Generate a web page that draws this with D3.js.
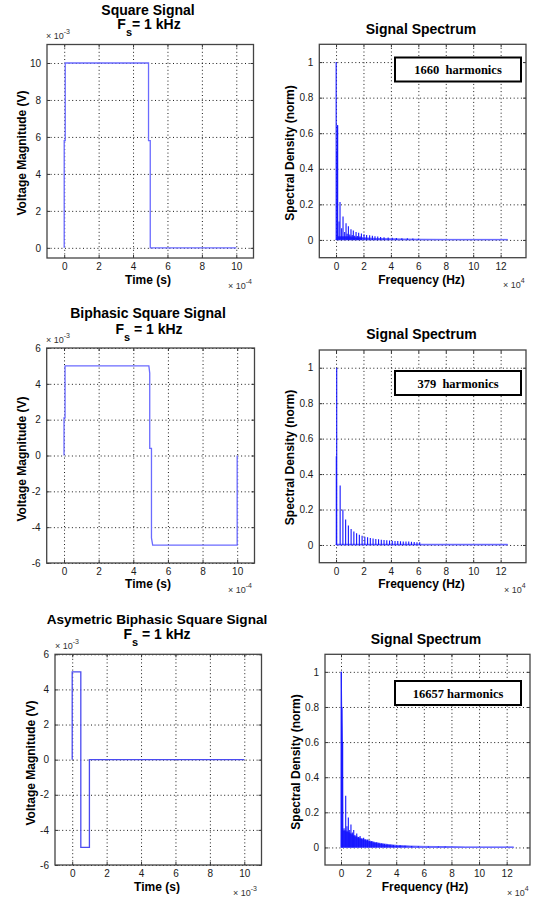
<!DOCTYPE html>
<html lang="en">
<head>
<meta charset="UTF-8">
<title>Signal spectra</title>
<style>
  body { margin: 0; background: #fff; }
  svg { display: block; font-family: "Liberation Sans", Arial, sans-serif; }
  .tick text { font-size: 10px; fill: #1a1a1a; }
  .grid line { stroke: #000; stroke-dasharray: 1,2.6; stroke-width: 0.9; }
  .grid .domain, .lbl .domain { display: none; }
  .mini line { stroke: #333; }
  .mini .domain { display: none; }
  .title { font-size: 14px; font-weight: bold; }
  .lab { font-size: 12px; font-weight: bold; }
  .expo { font-size: 9px; fill: #333; }
  .harm { font-family: "Liberation Serif", "Times New Roman", serif; font-size: 12.5px; font-weight: bold; white-space: pre; }
</style>
</head>
<body>
<script src="https://d3js.org/d3.v7.min.js"></script>
<script>
// tick values
const timeTicks = [0, 2, 4, 6, 8, 10];
const voltTicksUni = [0, 2, 4, 6, 8, 10];
const voltTicksBi = [-6, -4, -2, 0, 2, 4, 6];
const freqTicks = [0, 2, 4, 6, 8, 10, 12];
const densTicks = [0, 0.2, 0.4, 0.6, 0.8, 1];

// time signals (time in x10^-4 s / x10^-3 s, volts in x10^-3 V)
const sqT = [0, 0, 0.06, 0.06, 4.9, 4.9, 5.0, 5.0, 10];
const sqV = [0, 5.8, 5.8, 10, 10, 5.8, 5.8, 0, 0];
const biT = [0, 0, 0.06, 0.06, 4.9, 4.95, 4.95, 5.05, 5.05, 5.12, 10, 10];
const biV = [0, 2.1, 2.1, 5, 5, 4.6, 0.4, 0.4, -4.6, -5, -5, 0];
const asyT = [0, 0, 0.5, 0.5, 1, 1, 10];
const asyV = [0, 5, 5, -5, -5, 0, 0];

// spectrum 1 (1660 harmonics), freq in x10^4 Hz
const spec1F = [0.01, 0.07, 0.1, 0.12, 0.22, 0.29, 0.41, 0.51, 0.63, 0.73, 0.81, 0.9, 1.0, 1.09, 1.18, 1.26, 1.36, 1.46,
  1.55, 1.65, 1.75, 1.85, 2.04, 2.23, 2.45, 2.65, 2.84, 3.04, 3.25, 3.5, 3.8, 4.1, 4.4, 4.8, 5.2, 5.6, 6.0];
const spec1A = [1.0, 0.5, 0.645, 0.645, 0.104, 0.213, 0.066, 0.132, 0.045, 0.094, 0.035, 0.077, 0.03, 0.06, 0.027, 0.053, 0.024, 0.045,
  0.022, 0.041, 0.02, 0.036, 0.032, 0.028, 0.026, 0.023, 0.021, 0.019, 0.017, 0.015, 0.013, 0.012, 0.011, 0.01, 0.009, 0.008, 0.007];
const spec1FloorF = [0.0, 0.08, 1.0, 2.0, 3.0, 4.0, 6.0, 8.0, 12.5];
const spec1FloorA = [0.0, 0.02, 0.018, 0.012, 0.008, 0.006, 0.004, 0.003, 0.003];

// spectrum 2 (379 harmonics)
const spec2F = [0.02, 0.05, 0.3, 0.5, 0.7, 0.9, 1.1, 1.3, 1.5, 1.7, 1.9, 2.1, 2.3, 2.5, 2.7, 2.9, 3.1, 3.3, 3.5, 3.7,
  3.9, 4.1, 4.3, 4.5, 4.7, 4.9, 5.1, 5.3, 5.5, 5.7, 5.9, 6.1];
const spec2A = [0.5, 1.0, 0.335, 0.2, 0.144, 0.11, 0.09, 0.076, 0.066, 0.058, 0.052, 0.047, 0.043, 0.04, 0.037, 0.034, 0.032, 0.03, 0.028, 0.027,
  0.025, 0.024, 0.023, 0.022, 0.021, 0.02, 0.019, 0.019, 0.018, 0.017, 0.016, 0.016];
const spec2FloorF = [0.0, 12.5];
const spec2FloorA = [0.004, 0.004];

// spectrum 3 (16657 harmonics)
const spec3F = [0.02, 0.07, 0.12, 0.22, 0.34, 0.43, 0.53, 0.63, 0.72, 0.82, 0.92, 1.01, 1.14, 1.26, 1.38, 1.5, 1.64, 1.79, 1.93,
  2.08, 2.22, 2.39, 2.56, 2.75, 2.95, 3.14, 3.33, 3.55, 3.79, 4.03, 4.28, 4.64, 5.12, 5.6, 6.33, 7.05, 7.54];
const spec3A = [1.0, 0.8, 0.6, 0.11, 0.295, 0.12, 0.17, 0.1, 0.13, 0.085, 0.1, 0.07, 0.08, 0.06, 0.065, 0.05, 0.055, 0.045, 0.045,
  0.038, 0.035, 0.03, 0.028, 0.025, 0.022, 0.02, 0.018, 0.016, 0.014, 0.013, 0.012, 0.01, 0.008, 0.007, 0.006, 0.005, 0.005];
const spec3FloorF = [0.0, 0.02, 0.05, 0.1, 0.13, 0.5, 1.0, 1.5, 2.0, 2.5, 3.0, 3.5, 4.0, 4.5, 5.0, 6.0, 7.5, 9.0, 12.5];
const spec3FloorA = [0.0, 1.0, 0.8, 0.6, 0.1, 0.09, 0.065, 0.05, 0.038, 0.028, 0.021, 0.016, 0.012, 0.01, 0.008, 0.006, 0.005, 0.003, 0.003];

const harmonicLabels = ['1660  harmonics', '379  harmonics', '16657 harmonics'];

const svg = d3.select('body').append('svg').attr('width', 534).attr('height', 901);

function panel(c) {
  const x = d3.scaleLinear().domain(c.xd).range([c.x0, c.x1]);
  const y = d3.scaleLinear().domain(c.yd).range([c.y1, c.y0]);
  const w = c.x1 - c.x0, h = c.y1 - c.y0;
  const g = svg.append('g');
  g.append('rect').attr('x', c.x0).attr('y', c.y0).attr('width', w).attr('height', h).attr('fill', '#fff');

  // dotted grid
  g.append('g').attr('class', 'grid').attr('transform', `translate(0,${c.y1})`)
    .call(d3.axisBottom(x).tickValues(c.xt).tickSize(-h).tickFormat(''));
  g.append('g').attr('class', 'grid').attr('transform', `translate(${c.x0},0)`)
    .call(d3.axisLeft(y).tickValues(c.yt).tickSize(-w).tickFormat(''));

  // small inward ticks on all sides
  g.append('g').attr('class', 'mini').attr('transform', `translate(0,${c.y1})`)
    .call(d3.axisBottom(x).tickValues(c.xt).tickSize(-3).tickFormat(''));
  g.append('g').attr('class', 'mini').attr('transform', `translate(0,${c.y0})`)
    .call(d3.axisTop(x).tickValues(c.xt).tickSize(-3).tickFormat(''));
  g.append('g').attr('class', 'mini').attr('transform', `translate(${c.x0},0)`)
    .call(d3.axisLeft(y).tickValues(c.yt).tickSize(-3).tickFormat(''));
  g.append('g').attr('class', 'mini').attr('transform', `translate(${c.x1},0)`)
    .call(d3.axisRight(y).tickValues(c.yt).tickSize(-3).tickFormat(''));

  // tick labels
  g.append('g').attr('class', 'lbl').attr('transform', `translate(0,${c.y1})`)
    .call(d3.axisBottom(x).tickValues(c.xt).tickSize(0).tickPadding(5).tickFormat(d => String(d)));
  g.append('g').attr('class', 'lbl').attr('transform', `translate(${c.x0},0)`)
    .call(d3.axisLeft(y).tickValues(c.yt).tickSize(0).tickPadding(6).tickFormat(d => String(d)));

  return { g, x, y, c };
}

function frame(p) {
  const c = p.c;
  p.g.append('rect').attr('x', c.x0).attr('y', c.y0).attr('width', c.x1 - c.x0).attr('height', c.y1 - c.y0)
    .attr('fill', 'none').attr('stroke', '#444').attr('stroke-width', 1.3);
}

function timeLine(p, T, V, color) {
  const pts = T.map((t, i) => [t, V[i]]);
  p.g.append('path').datum(pts)
    .attr('d', d3.line().x(d => p.x(d[0])).y(d => p.y(d[1])))
    .attr('fill', 'none').attr('stroke', color).attr('stroke-width', 1.3);
}

function spectrum(p, F, A, FF, FA) {
  const floor = FF.map((f, i) => [f, FA[i]]);
  p.g.append('path').datum(floor)
    .attr('d', d3.area().x(d => p.x(d[0])).y0(p.y(0)).y1(d => p.y(d[1])))
    .attr('fill', '#2a2aff').attr('stroke', '#6a6aff').attr('stroke-width', 1);
  p.g.selectAll(null).data(F.map((f, i) => [f, A[i]])).enter().append('line')
    .attr('x1', d => p.x(d[0])).attr('x2', d => p.x(d[0]))
    .attr('y1', p.y(0)).attr('y2', d => p.y(d[1]))
    .attr('stroke', '#1515ff').attr('stroke-width', 1.1);
}

function expo(x, y, pow) {
  const t = svg.append('text').attr('class', 'expo').attr('x', x).attr('y', y);
  t.append('tspan').text('\u00d7 10');
  t.append('tspan').attr('dy', -5).attr('font-size', 7).text(pow);
}

function title(cx, y, txt, size) {
  svg.append('text').attr('class', 'title').attr('x', cx).attr('y', y).attr('text-anchor', 'middle')
    .style('font-size', size ? size + 'px' : null).text(txt);
}

function fsTitle(cx, y, rest) {
  const t = svg.append('text').attr('class', 'title').attr('x', cx).attr('y', y).attr('text-anchor', 'middle');
  t.append('tspan').text('F');
  t.append('tspan').attr('dy', 7).attr('font-size', 11).text('s');
  t.append('tspan').attr('dy', -7).text(rest);
}

function xLabel(cx, y, txt) {
  svg.append('text').attr('class', 'lab').attr('x', cx).attr('y', y).attr('text-anchor', 'middle').text(txt);
}

function yLabel(x, cy, txt) {
  svg.append('text').attr('class', 'lab').attr('text-anchor', 'middle')
    .attr('transform', `translate(${x},${cy}) rotate(-90)`).text(txt);
}

function harmBox(x, y, txt) {
  svg.append('rect').attr('x', x).attr('y', y).attr('width', 126).attr('height', 24)
    .attr('fill', '#fff').attr('stroke', '#000').attr('stroke-width', 2);
  svg.append('text').attr('class', 'harm').attr('x', x + 63).attr('y', y + 16.5)
    .attr('text-anchor', 'middle').text(txt);
}

// ---- row 1
const p1 = panel({ x0: 47, x1: 253.5, y0: 44.5, y1: 258, xd: [-1, 11], yd: [-0.55, 11], xt: timeTicks, yt: voltTicksUni });
timeLine(p1, sqT, sqV, '#6b6bff');
frame(p1);
title(148, 14.5, 'Square Signal');
fsTitle(149, 29, '= 1 kHz');
expo(46, 39, '-3');
expo(228, 289, '-4');
xLabel(148, 284, 'Time (s)');
yLabel(26, 153, 'Voltage Magnitude (V)');

const p2 = panel({ x0: 319.3, x1: 526, y0: 44.3, y1: 257.7, xd: [-1.22, 13.85], yd: [-0.1, 1.1], xt: freqTicks, yt: densTicks });
spectrum(p2, spec1F, spec1A, spec1FloorF, spec1FloorA);
frame(p2);
title(421, 34, 'Signal Spectrum');
expo(503, 288, '4');
xLabel(421.5, 284, 'Frequency (Hz)');
yLabel(294, 153, 'Spectral Density (norm)');
harmBox(395, 57.5, harmonicLabels[0]);

// ---- row 2
const p3 = panel({ x0: 46.7, x1: 254.5, y0: 348, y1: 563, xd: [-1, 11], yd: [-6, 6], xt: timeTicks, yt: voltTicksBi });
timeLine(p3, biT, biV, '#6b6bff');
frame(p3);
title(148, 318, 'Biphasic Square Signal');
fsTitle(149, 333.5, ' = 1 kHz');
expo(46, 343, '-3');
expo(228, 593, '-4');
xLabel(148, 588, 'Time (s)');
yLabel(26, 459, 'Voltage Magnitude (V)');

const p4 = panel({ x0: 319.3, x1: 526, y0: 350, y1: 562.7, xd: [-1.22, 13.85], yd: [-0.1, 1.1], xt: freqTicks, yt: densTicks });
spectrum(p4, spec2F, spec2A, spec2FloorF, spec2FloorA);
frame(p4);
title(421.5, 339, 'Signal Spectrum');
expo(504, 593, '4');
xLabel(421.5, 588, 'Frequency (Hz)');
yLabel(294, 457.5, 'Spectral Density (norm)');
harmBox(395, 371, harmonicLabels[1]);

// ---- row 3
const p5 = panel({ x0: 55, x1: 261.5, y0: 654.3, y1: 865, xd: [-1, 11], yd: [-6, 6], xt: timeTicks, yt: voltTicksBi });
timeLine(p5, asyT, asyV, '#4b4bf0');
frame(p5);
title(157, 623.5, 'Asymetric Biphasic Square Signal', 13.6);
fsTitle(157, 639, ' = 1 kHz');
expo(55, 649, '-3');
expo(233, 896, '-3');
xLabel(157, 891, 'Time (s)');
yLabel(35, 763, 'Voltage Magnitude (V)');

const p6 = panel({ x0: 325, x1: 530, y0: 654.3, y1: 865, xd: [-1.16, 13.69], yd: [-0.1, 1.1], xt: freqTicks, yt: densTicks });
spectrum(p6, spec3F, spec3A, spec3FloorF, spec3FloorA);
frame(p6);
title(426, 644, 'Signal Spectrum');
expo(507, 896, '4');
xLabel(425, 891, 'Frequency (Hz)');
yLabel(300, 762, 'Spectral Density (norm)');
harmBox(395, 681, harmonicLabels[2]);
</script>
</body>
</html>
